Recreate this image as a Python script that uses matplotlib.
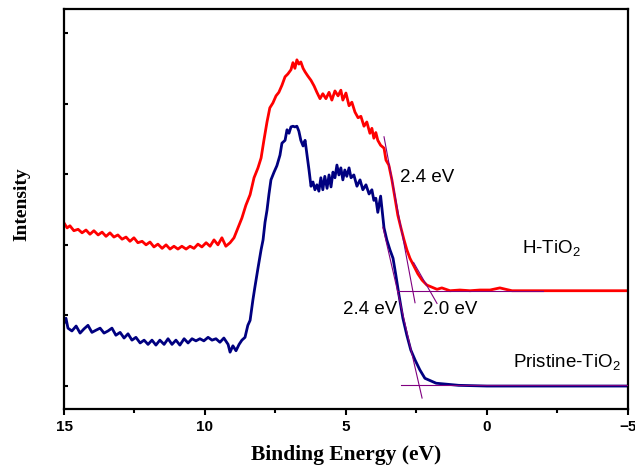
import matplotlib
matplotlib.use("Agg")
import matplotlib.pyplot as plt
from matplotlib.ticker import MultipleLocator

plt.rcParams['mathtext.fontset'] = 'custom'
plt.rcParams['mathtext.rm'] = 'Liberation Sans'
plt.rcParams['mathtext.it'] = 'Liberation Sans'
plt.rcParams['mathtext.default'] = 'regular'

# H-TiO2 (red)
h_x = [15.00, 14.89, 14.79, 14.65, 14.50, 14.36, 14.22, 14.08, 13.94, 13.79,
       13.65, 13.51, 13.37, 13.23, 13.09, 12.94, 12.80, 12.66, 12.52, 12.38,
       12.23, 12.09, 11.95, 11.81, 11.67, 11.52, 11.38, 11.24, 11.10, 10.96,
       10.82, 10.67, 10.53, 10.39, 10.25, 10.11, 9.96, 9.82, 9.68, 9.54,
       9.40, 9.26, 9.11, 8.97, 8.83, 8.69, 8.55, 8.40, 8.26, 8.12,
       8.01, 7.91, 7.80, 7.70, 7.59, 7.48, 7.38, 7.27, 7.16, 7.06,
       6.95, 6.88, 6.81, 6.74, 6.67, 6.60, 6.52, 6.45, 6.35, 6.24,
       6.13, 6.03, 5.92, 5.82, 5.71, 5.60, 5.50, 5.39, 5.28, 5.18,
       5.11, 5.00, 4.89, 4.79, 4.68, 4.57, 4.47, 4.36, 4.26, 4.15,
       4.08, 4.01, 3.94, 3.87, 3.77, 3.65, 3.58, 3.48, 3.37, 3.26,
       3.16, 3.05, 2.94, 2.84, 2.73, 2.59, 2.45, 2.30, 2.13, 1.95,
       1.77, 1.60, 1.31, 0.96, 0.60, 0.25, -0.11, -0.46, -0.67, -0.89,
       -1.52, -2.59, -4.01, -5.00]
h_y = [2.31, 2.24, 2.27, 2.20, 2.22, 2.17, 2.21, 2.15, 2.20, 2.14,
       2.18, 2.12, 2.17, 2.11, 2.14, 2.08, 2.11, 2.05, 2.10, 2.03,
       2.05, 2.00, 2.04, 1.97, 2.01, 1.95, 2.00, 1.94, 1.98, 1.94,
       1.98, 1.94, 1.98, 1.95, 2.01, 1.97, 2.03, 1.98, 2.07, 2.00,
       2.10, 1.98, 2.03, 2.10, 2.24, 2.38, 2.56, 2.71, 2.95, 3.09,
       3.23, 3.48, 3.74, 3.94, 4.01, 4.11, 4.16, 4.26, 4.38, 4.42,
       4.48, 4.58, 4.50, 4.62, 4.56, 4.59, 4.50, 4.45, 4.39, 4.33,
       4.25, 4.16, 4.07, 4.14, 4.07, 4.16, 4.05, 4.18, 4.11, 4.19,
       4.05, 4.15, 3.97, 4.02, 3.88, 3.80, 3.82, 3.68, 3.74, 3.58,
       3.65, 3.51, 3.59, 3.48, 3.41, 3.37, 3.20, 3.13, 2.92, 2.66,
       2.42, 2.24, 2.07, 1.93, 1.81, 1.70, 1.59, 1.50, 1.43, 1.40,
       1.37, 1.39, 1.35, 1.36, 1.35, 1.36, 1.36, 1.39, 1.37, 1.35,
       1.35, 1.35, 1.35, 1.35]

# Pristine-TiO2 (navy)
p_x = [15.00, 14.93, 14.86, 14.72, 14.57, 14.43, 14.29, 14.15, 14.01, 13.87,
       13.72, 13.58, 13.44, 13.30, 13.16, 13.01, 12.87, 12.73, 12.59, 12.45,
       12.30, 12.16, 12.02, 11.88, 11.74, 11.60, 11.45, 11.31, 11.17, 11.03,
       10.89, 10.74, 10.60, 10.46, 10.32, 10.18, 10.04, 9.89, 9.75, 9.61,
       9.47, 9.33, 9.18, 9.11, 9.01, 8.90, 8.79, 8.69, 8.58, 8.48,
       8.40, 8.30, 8.23, 8.12, 8.01, 7.94, 7.87, 7.80, 7.73, 7.66,
       7.55, 7.45, 7.34, 7.27, 7.16, 7.09, 7.02, 6.95, 6.88, 6.81,
       6.74, 6.67, 6.60, 6.52, 6.45, 6.38, 6.31, 6.24, 6.17, 6.10,
       6.03, 5.96, 5.89, 5.82, 5.75, 5.67, 5.60, 5.53, 5.46, 5.39,
       5.32, 5.25, 5.18, 5.11, 5.04, 4.97, 4.89, 4.82, 4.72, 4.61,
       4.50, 4.40, 4.29, 4.18, 4.08, 4.01, 3.94, 3.87, 3.77, 3.65,
       3.55, 3.44, 3.33, 3.23, 3.12, 2.98, 2.84, 2.70, 2.55, 2.38,
       2.20, 1.80, 1.00, 0.00, -1.00, -2.00, -3.00, -4.00, -5.00]
p_y = [0.89, 0.96, 0.82, 0.78, 0.85, 0.75, 0.81, 0.86, 0.76, 0.79,
       0.82, 0.75, 0.78, 0.82, 0.72, 0.76, 0.68, 0.74, 0.65, 0.69,
       0.61, 0.65, 0.59, 0.65, 0.58, 0.65, 0.59, 0.67, 0.59, 0.65,
       0.58, 0.67, 0.61, 0.67, 0.64, 0.67, 0.64, 0.69, 0.65, 0.67,
       0.62, 0.68, 0.59, 0.48, 0.57, 0.50, 0.59, 0.65, 0.69, 0.86,
       0.93, 1.22, 1.40, 1.67, 1.93, 2.07, 2.32, 2.49, 2.72, 2.92,
       3.03, 3.12, 3.27, 3.44, 3.48, 3.63, 3.58, 3.67, 3.68, 3.67,
       3.68, 3.61, 3.48, 3.40, 3.48, 3.27, 3.06, 2.83, 2.89, 2.78,
       2.85, 2.76, 2.95, 2.78, 2.97, 2.80, 2.99, 2.82, 3.03, 2.95,
       3.13, 2.99, 3.09, 2.92, 3.06, 2.97, 3.09, 2.95, 2.99, 2.83,
       2.92, 2.78, 2.85, 2.72, 2.78, 2.63, 2.66, 2.46, 2.69, 2.24,
       2.07, 1.93, 1.81, 1.57, 1.29, 0.96, 0.72, 0.51, 0.37, 0.23,
       0.11, 0.04, 0.01, 0.00, 0.00, 0.00, 0.00, 0.00, 0.00]

# tangent / baseline construction lines (x, y)
tangents = [
    ([3.65, 2.55], [3.53, 1.18]),   # H-TiO2 edge, 2.4 eV
    ([2.60, 1.77], [1.75, 1.17]),   # H-TiO2 tail, 2.0 eV
    ([3.19, -2.00], [1.35, 1.35]),  # H-TiO2 baseline
    ([3.69, 2.30], [2.25, -0.17]),  # Pristine edge, 2.4 eV
    ([3.05, -5.00], [0.01, 0.01]),  # Pristine baseline
]

fig = plt.figure(figsize=(6.35, 4.74), dpi=100)
ax = fig.add_axes([0.1008, 0.137, 0.888, 0.844])

ax.plot(h_x, h_y, color='#ff0000', lw=2.0, zorder=2)
ax.plot(p_x, p_y, color='#000080', lw=2.0, zorder=2)
for tx, ty in tangents:
    ax.plot(tx, ty, color='#800080', lw=0.8, zorder=3)

ax.set_xlim(15, -5)
ax.set_ylim(-0.326, 5.34)
ax.xaxis.set_major_locator(MultipleLocator(5))
ax.xaxis.set_minor_locator(MultipleLocator(2.5))
ax.set_yticks([0, 1, 2, 3, 4, 5])
ax.set_yticklabels([])

for s in ax.spines.values():
    s.set_linewidth(1.6)
ax.tick_params(axis='x', which='major', direction='out', length=4, width=1.5,
               pad=4, labelsize=11)
ax.tick_params(axis='x', which='minor', direction='out', length=3, width=1.5)
ax.tick_params(axis='y', which='major', direction='in', length=3, width=1.5)
for lab in ax.get_xticklabels():
    lab.set_fontfamily('Liberation Sans')
    lab.set_fontweight('bold')

ax.set_xlabel('Binding Energy (eV)', fontfamily='Liberation Serif',
              fontweight='bold', fontsize=15.5, labelpad=8)
ax.set_ylabel('Intensity', fontfamily='Liberation Serif',
              fontweight='bold', fontsize=14)
ax.yaxis.set_label_coords(-0.060, 0.5125)

tk = dict(fontfamily='Liberation Sans', fontsize=13.5, va='center', ha='left')
ax.text(3.09, 2.96, '2.4 eV', **tk)
ax.text(-1.24, 1.95, 'H-TiO$_2$', **tk)
ax.text(5.11, 1.08, '2.4 eV', **tk)
ax.text(2.27, 1.08, '2.0 eV', **tk)
ax.text(-0.92, 0.34, 'Pristine-TiO$_2$', **tk)

fig.savefig('out.png', dpi=100)
